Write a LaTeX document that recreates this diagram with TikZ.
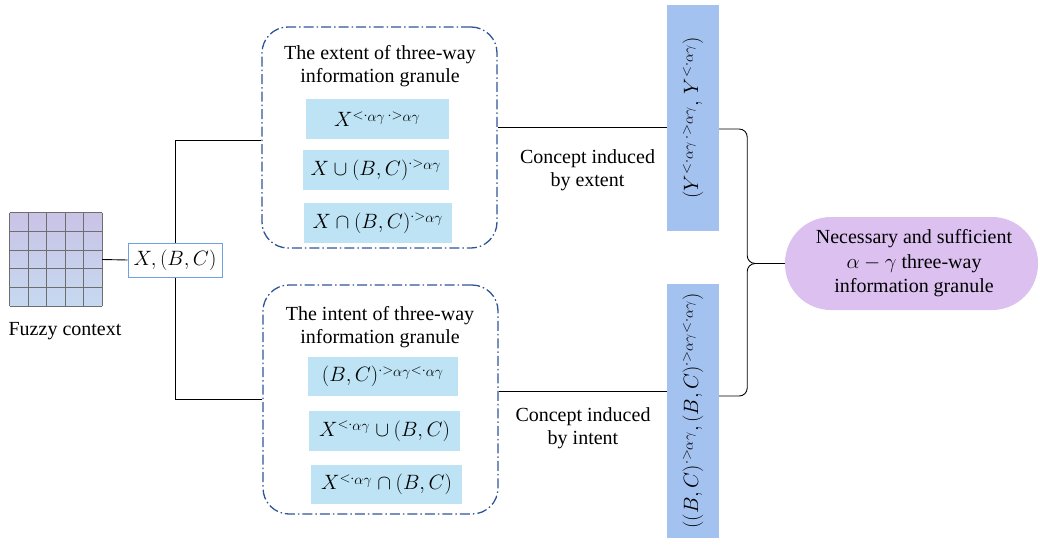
\documentclass[tikz,border=0pt]{standalone}
\usepackage{fontspec}
\setmainfont{Liberation Serif}
\newfontfamily\diagserif{Liberation Serif}
\usetikzlibrary{calc}
\definecolor{dashblue}{HTML}{2F5597}
\definecolor{innerblue}{HTML}{BDE3F5}
\definecolor{vertblue}{HTML}{A4C2F0}
\definecolor{ellpurple}{HTML}{DCC0F0}
\definecolor{xboxline}{HTML}{6FA0E0}
\definecolor{gridline}{HTML}{6E6E6E}
\definecolor{gridtop}{HTML}{C9C3E6}
\definecolor{gridbot}{HTML}{C6D9F0}
\tikzset{
  group/.style={draw=dashblue, line width=1.3pt, rounded corners=26pt,
    dash pattern=on 10pt off 3pt on 1.5pt off 3pt, inner sep=0pt},
  inner/.style={fill=innerblue, inner sep=0pt},
  vert/.style={fill=vertblue, inner sep=0pt},
  title/.style={align=center, inner sep=0pt},
  conn/.style={draw=black, line width=0.9pt},
}
\newcommand{\ag}{{\scriptstyle\alpha\gamma}}
\begin{document}
\begin{tikzpicture}[x=1pt,y=-1pt,font=\diagserif\fontsize{20}{23}\selectfont]
\useasboundingbox (0,0) rectangle (1040,551);
% grid
\node[minimum width=92pt, minimum height=93pt, inner sep=0pt] (grid) at (56,259.5) {};
\shade[top color=gridtop, bottom color=gridbot] (grid.south west) rectangle (grid.north east);
\foreach \i in {0,...,5}{
  \draw[gridline, line width=1.1pt] ($(grid.north west)!\i/5!(grid.north east)$) -- ($(grid.south west)!\i/5!(grid.south east)$);
  \draw[gridline, line width=1.1pt] ($(grid.north west)!\i/5!(grid.south west)$) -- ($(grid.north east)!\i/5!(grid.south east)$);
}
\node (fc) at (65,331) {Fuzzy context};
% X,(B,C)
\node[draw=xboxline, line width=1pt, minimum width=94pt, minimum height=34pt, inner sep=0pt] (xbox) at (175,260) {$X,(B,C)$};
% extent group
\node[group, minimum width=235pt, minimum height=221pt] (ext) at (379.5,137.5) {};
\node[title] (extt) at (380,66.5) {The extent of three-way\\information granule};
\node[inner, minimum width=143pt, minimum height=40pt] (e1) at (377.5,119) {$X^{<\cdot_\ag\,\cdot>_\ag}$};
\node[inner, minimum width=146pt, minimum height=40pt] (e2) at (376,170) {$X\cup(B,C)^{\cdot>_\ag}$};
\node[inner, minimum width=148pt, minimum height=40pt] (e3) at (378,223) {$X\cap(B,C)^{\cdot>_\ag}$};
% intent group
\node[group, minimum width=235pt, minimum height=229pt] (int) at (380.5,399.5) {};
\node[title] (intt) at (380,327.5) {The intent of three-way\\information granule};
\node[inner, minimum width=150pt, minimum height=39pt] (i1) at (383,376.5) {$(B,C)^{\cdot>_\ag<\cdot_\ag}$};
\node[inner, minimum width=151pt, minimum height=40pt] (i2) at (384.5,431) {$X^{<\cdot_\ag}\cup(B,C)$};
\node[inner, minimum width=151pt, minimum height=39pt] (i3) at (386.5,484.5) {$X^{<\cdot_\ag}\cap(B,C)$};
% vertical concept boxes
\node[vert, minimum width=52pt, minimum height=226pt] (v1) at (693,118) {};
\node[rotate=90] (v1t) at (v1.center) {$(Y^{<\cdot_\ag\,\cdot>_\ag},\,Y^{<\cdot_\ag})$};
\node[vert, minimum width=52pt, minimum height=254pt] (v2) at (693,411) {};
\node[rotate=90] (v2t) at (v2.center) {$((B,C)^{\cdot>_\ag},(B,C)^{\cdot>_\ag<\cdot_\ag})$};
% labels
\node[title] (lab1) at (587.5,170) {Concept induced\\by extent};
\node[title] (lab2) at (583,428.5) {Concept induced\\by intent};
% result
\node[fill=ellpurple, rounded corners=46pt, minimum width=253pt, minimum height=93pt, inner sep=0pt, align=center, font=\diagserif\fontsize{20}{24.5}\selectfont] (ell) at (911.5,263.5) {\hspace*{5pt}Necessary and sufficient\\\hspace*{5pt}$\alpha-\gamma$ three-way\\\hspace*{5pt}information granule};
% connectors
\draw[conn] (grid.east) -- (xbox.west);
\draw[conn] (xbox.north) -- ($(xbox.north |- ext.west)+(0,2.5)$) coordinate (j1) -- (j1 -| ext.west);
\draw[conn] (xbox.south) -- (xbox.south |- int.west) -- (int.west);
\draw[conn] ([yshift=10.5pt]ext.east) coordinate (a1) -- (a1 -| v1.west);
\draw[conn] ([yshift=-2pt]v1.east |- a1) coordinate (b1);
\draw[conn] ([yshift=8.5pt]int.east) coordinate (a2) -- (a2 -| v2.west);
\draw[conn, rounded corners=8pt] (b1) -- ($(b1)+(28,0)$) |- (ell.west);
\draw[conn, rounded corners=8pt] ([yshift=-5pt]v2.east |- a2) coordinate (b2) -- ($(b2)+(28,0)$) |- (ell.west);
\end{tikzpicture}
\end{document}
